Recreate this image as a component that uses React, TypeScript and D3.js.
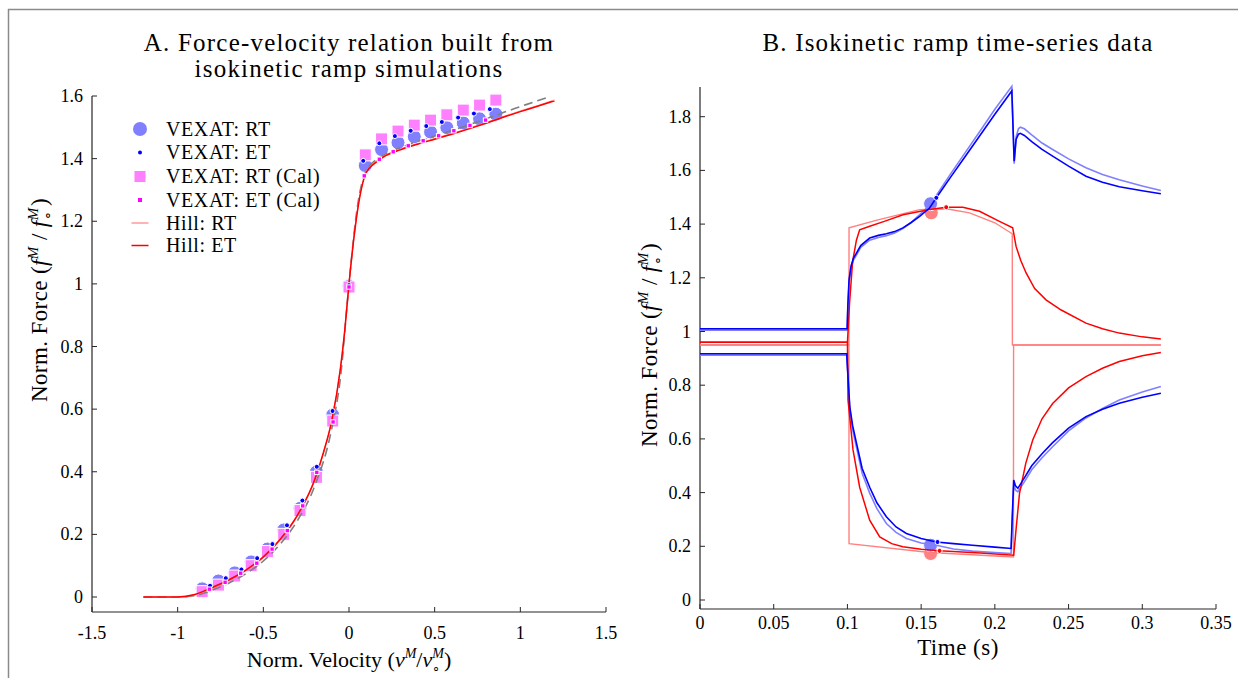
import React from 'react';
import * as d3 from 'd3';

const W = 1238, H = 678;
const FONT = "'Liberation Serif', 'Times New Roman', serif";

// ---------- Panel A : force-velocity ----------
const fvTickX = [-1.5, -1, -0.5, 0, 0.5, 1, 1.5];
const fvTickXLabels = ['-1.5', '-1', '-0.5', '0', '0.5', '1', '1.5'];
const fvTickY = [0, 0.2, 0.4, 0.6, 0.8, 1, 1.2, 1.4, 1.6];
const fvTickYLabels = ['0', '0.2', '0.4', '0.6', '0.8', '1', '1.2', '1.4', '1.6'];

const vexRtVel = [-0.857, -0.762, -0.667, -0.571, -0.476, -0.381, -0.286, -0.190, -0.095, 0, 0.095, 0.190, 0.286, 0.381, 0.476, 0.571, 0.667, 0.762, 0.857];
const vexRtForce = [0.026, 0.051, 0.077, 0.112, 0.153, 0.214, 0.283, 0.399, 0.581, 0.993, 1.378, 1.429, 1.451, 1.470, 1.485, 1.499, 1.514, 1.527, 1.542];
const vexRtCalForce = [0.017, 0.038, 0.067, 0.100, 0.145, 0.200, 0.276, 0.382, 0.562, 0.990, 1.412, 1.463, 1.488, 1.507, 1.523, 1.540, 1.555, 1.571, 1.587];
const vexEtVel = [-0.811, -0.719, -0.628, -0.536, -0.447, -0.362, -0.272, -0.188, -0.096, 0, 0.083, 0.177, 0.268, 0.360, 0.451, 0.542, 0.637, 0.729, 0.822];
const vexEtForce = [0.036, 0.060, 0.088, 0.124, 0.169, 0.229, 0.308, 0.416, 0.594, 0.996, 1.393, 1.449, 1.472, 1.489, 1.504, 1.517, 1.531, 1.544, 1.558];
const vexEtCalVel = [-0.815, -0.723, -0.632, -0.538, -0.449, -0.360, -0.270, -0.188, -0.093, 0, 0.089, 0.177, 0.258, 0.346, 0.433, 0.523, 0.612, 0.706, 0.797];
const vexEtCalForce = [0.025, 0.047, 0.076, 0.108, 0.153, 0.212, 0.291, 0.398, 0.559, 0.990, 1.345, 1.398, 1.422, 1.441, 1.457, 1.473, 1.489, 1.506, 1.523];

const hillVel = [-1.2, -1.0, -0.9, -0.8, -0.7, -0.6, -0.5, -0.4, -0.3, -0.2, -0.15, -0.1, -0.05, -0.025, 0, 0.025, 0.05, 0.075, 0.1, 0.15, 0.2, 0.3, 0.4, 0.5, 0.6, 0.7, 0.8, 0.9, 1.0, 1.1, 1.2];
const hillEtForce = [0, 0, 0.008, 0.030, 0.055, 0.087, 0.128, 0.185, 0.262, 0.375, 0.460, 0.565, 0.730, 0.850, 1.0, 1.130, 1.235, 1.310, 1.355, 1.385, 1.405, 1.428, 1.446, 1.462, 1.478, 1.495, 1.513, 1.532, 1.550, 1.567, 1.585];
const hillRtForce = [0, 0, 0.007, 0.028, 0.053, 0.085, 0.126, 0.183, 0.260, 0.373, 0.458, 0.563, 0.728, 0.850, 1.0, 1.132, 1.238, 1.313, 1.357, 1.387, 1.407, 1.430, 1.448, 1.464, 1.480, 1.497, 1.515, 1.534, 1.552, 1.569, 1.587];
const refVel = [-1.2, -1.0, -0.9, -0.8, -0.7, -0.6, -0.5, -0.4, -0.3, -0.2, -0.1, -0.05, 0, 0.05, 0.1, 0.2, 0.3, 0.4, 0.5, 0.6, 0.7, 0.8, 0.9, 1.0, 1.1, 1.15];
const refForce = [0, 0, 0.004, 0.022, 0.045, 0.075, 0.115, 0.170, 0.245, 0.355, 0.540, 0.700, 1.0, 1.250, 1.360, 1.410, 1.435, 1.455, 1.472, 1.490, 1.508, 1.527, 1.547, 1.566, 1.585, 1.594];

// ---------- Panel B : time series ----------
const tsTickX = [0, 0.05, 0.1, 0.15, 0.2, 0.25, 0.3, 0.35];
const tsTickXLabels = ['0', '0.05', '0.1', '0.15', '0.2', '0.25', '0.3', '0.35'];
const tsTickY = [0, 0.2, 0.4, 0.6, 0.8, 1, 1.2, 1.4, 1.6, 1.8];
const tsTickYLabels = ['0', '0.2', '0.4', '0.6', '0.8', '1', '1.2', '1.4', '1.6', '1.8'];

const vexEtLenT = [0, 0.0998, 0.1003, 0.1011, 0.1025, 0.1040, 0.1061, 0.1090, 0.1151, 0.1210, 0.1264, 0.1320, 0.1376, 0.1430, 0.1490, 0.1557, 0.1603, 0.1700, 0.1800, 0.1900, 0.2000, 0.2115, 0.2131, 0.2144, 0.2160, 0.2173, 0.2200, 0.2250, 0.2320, 0.2392, 0.2500, 0.2618, 0.2730, 0.2844, 0.3000, 0.3126];
const vexEtLenF = [1.010, 1.010, 1.100, 1.193, 1.245, 1.272, 1.292, 1.320, 1.348, 1.358, 1.364, 1.372, 1.386, 1.405, 1.429, 1.460, 1.498, 1.575, 1.653, 1.731, 1.809, 1.896, 1.634, 1.715, 1.735, 1.738, 1.730, 1.707, 1.678, 1.653, 1.616, 1.578, 1.556, 1.539, 1.524, 1.513];
const vexRtLenT = vexEtLenT;
const vexRtLenF = [1.005, 1.005, 1.090, 1.180, 1.235, 1.265, 1.285, 1.313, 1.340, 1.350, 1.357, 1.367, 1.383, 1.405, 1.435, 1.470, 1.507, 1.587, 1.667, 1.747, 1.828, 1.913, 1.625, 1.725, 1.755, 1.761, 1.755, 1.732, 1.702, 1.678, 1.643, 1.610, 1.585, 1.565, 1.542, 1.525];

const vexEtShoT = [0, 0.0995, 0.1016, 0.1035, 0.1061, 0.1100, 0.1151, 0.1200, 0.1264, 0.1330, 0.1400, 0.1500, 0.1603, 0.1720, 0.1848, 0.2000, 0.2110, 0.2118, 0.2128, 0.2140, 0.2156, 0.2200, 0.2250, 0.2320, 0.2390, 0.2500, 0.2618, 0.2730, 0.2844, 0.3000, 0.3126];
const vexEtShoF = [0.917, 0.917, 0.720, 0.650, 0.585, 0.490, 0.420, 0.362, 0.310, 0.272, 0.248, 0.229, 0.216, 0.210, 0.204, 0.197, 0.192, 0.310, 0.447, 0.425, 0.416, 0.455, 0.500, 0.545, 0.585, 0.640, 0.683, 0.710, 0.733, 0.755, 0.770];
const vexRtShoT = vexEtShoT;
const vexRtShoF = [0.912, 0.912, 0.710, 0.635, 0.570, 0.472, 0.398, 0.340, 0.285, 0.252, 0.229, 0.212, 0.204, 0.190, 0.182, 0.177, 0.173, 0.290, 0.430, 0.410, 0.403, 0.440, 0.485, 0.530, 0.570, 0.630, 0.678, 0.713, 0.745, 0.775, 0.795];

const hillEtLenT = [0, 0.1000, 0.1015, 0.1035, 0.1061, 0.1083, 0.1151, 0.1250, 0.1377, 0.1557, 0.1670, 0.1783, 0.1896, 0.2031, 0.2121, 0.2144, 0.2175, 0.2212, 0.2270, 0.2347, 0.2450, 0.2618, 0.2730, 0.2844, 0.3000, 0.3126];
const hillEtLenF = [0.960, 0.960, 1.110, 1.260, 1.340, 1.379, 1.392, 1.410, 1.435, 1.454, 1.463, 1.463, 1.448, 1.410, 1.386, 1.317, 1.265, 1.218, 1.160, 1.118, 1.080, 1.031, 1.010, 0.994, 0.980, 0.972];
const hillRtLenT = [0, 0.1010, 0.1011, 0.1200, 0.1490, 0.1671, 0.1828, 0.2000, 0.2118, 0.2119, 0.3126];
const hillRtLenF = [0.950, 0.950, 1.386, 1.415, 1.454, 1.457, 1.442, 1.405, 1.364, 0.950, 0.950];

const hillEtShoT = [0, 0.1000, 0.1004, 0.1038, 0.1083, 0.1151, 0.1219, 0.1300, 0.1376, 0.1500, 0.1625, 0.1900, 0.2128, 0.2145, 0.2167, 0.2210, 0.2257, 0.2320, 0.2392, 0.2500, 0.2618, 0.2730, 0.2844, 0.3000, 0.3126];
const hillEtShoF = [0.960, 0.960, 0.745, 0.559, 0.420, 0.297, 0.235, 0.210, 0.198, 0.189, 0.183, 0.175, 0.167, 0.270, 0.396, 0.510, 0.596, 0.675, 0.732, 0.790, 0.832, 0.863, 0.888, 0.910, 0.922];
const hillRtShoT = [0, 0.1010, 0.1011, 0.1557, 0.2126, 0.2127, 0.3126];
const hillRtShoF = [0.950, 0.950, 0.210, 0.177, 0.160, 0.950, 0.950];

// markers on panel B
const vexRtMarkT = [0.1564, 0.1564];
const vexRtMarkF = [1.476, 0.204];
const vexEtMarkT = [0.1603, 0.1611];
const vexEtMarkF = [1.498, 0.216];
const hillRtMarkT = [0.1569, 0.1564];
const hillRtMarkF = [1.442, 0.173];
const hillEtMarkT = [0.1670, 0.1625];
const hillEtMarkF = [1.463, 0.183];

const legendLabels = ['VEXAT: RT', 'VEXAT: ET', 'VEXAT: RT (Cal)', 'VEXAT: ET (Cal)', 'Hill: RT', 'Hill: ET'];

const C_LBLUE = '#8080ff';
const C_BLUE = '#0000ff';
const C_PINK = '#ff80ff';
const C_MAG = '#ff00ff';
const C_LRED = '#ff8080';
const C_RED = '#ff0000';

const zip = (a: number[], b: number[]) => a.map((v, i) => [v, b[i]] as [number, number]);

function ForceLabel({ x, y }: { x: number; y: number }) {
  return (
    <text transform={`translate(${x},${y}) rotate(-90)`} textAnchor="middle" fontFamily={FONT} fontSize={23} fill="#000" letterSpacing={0.4}>
      Norm. Force (<tspan fontStyle="italic">f</tspan>
      <tspan dy={-9} fontSize={15} fontStyle="italic">M</tspan>
      <tspan dy={9}>{'\u00a0/\u00a0'}</tspan>
      <tspan fontStyle="italic">f</tspan>
      <tspan dy={-9} fontSize={15} fontStyle="italic">M</tspan>
      <tspan dx={-13} dy={14} fontSize={14}>∘</tspan>
      <tspan dx={5} dy={-5}>)</tspan>
    </text>
  );
}

export default function App() {
  const xA = d3.scaleLinear().domain([-1.5, 1.5]).range([92, 606]);
  const yA = d3.scaleLinear().domain([0, 1.6]).range([597, 96]);
  const xB = d3.scaleLinear().domain([0, 0.35]).range([700, 1216]);
  const yB = d3.scaleLinear().domain([0, 1.8]).range([600, 116.7]);

  const lineA = d3.line<[number, number]>().x(d => xA(d[0])).y(d => yA(d[1])).curve(d3.curveMonotoneX);
  const lineB = d3.line<[number, number]>().x(d => xB(d[0])).y(d => yB(d[1]));

  const axA = { x0: 92, x1: 606, yLine: 612, yTop: 96 };
  const axB = { x0: 700, x1: 1216, yLine: 609, yTop: 87 };

  const legY = [129, 152.5, 176.5, 200, 223, 245.5];
  const legX = 140;

  return (
    <svg width={W} height={H} style={{ position: 'absolute', left: 0, top: 0, background: '#fff' }}>
      <rect x={0} y={0} width={W} height={H} fill="#fff" />
      {/* frame */}
      <line x1={8} y1={9.5} x2={W} y2={9.5} stroke="#8a8a8a" strokeWidth={1.5} />
      <line x1={8.5} y1={9} x2={8.5} y2={H} stroke="#8a8a8a" strokeWidth={1.5} />

      {/* ===== Panel A ===== */}
      <text x={349} y={51} textAnchor="middle" fontFamily={FONT} fontSize={25} letterSpacing={1.2}>A. Force-velocity relation built from</text>
      <text x={349} y={77} textAnchor="middle" fontFamily={FONT} fontSize={25} letterSpacing={1.2}>isokinetic ramp simulations</text>

      {/* axes */}
      <line x1={axA.x0} y1={axA.yLine} x2={axA.x1} y2={axA.yLine} stroke="#262626" strokeWidth={1.2} />
      <line x1={axA.x0} y1={axA.yLine} x2={axA.x0} y2={axA.yTop} stroke="#262626" strokeWidth={1.2} />
      {fvTickX.map((v, i) => (
        <g key={'ax' + i}>
          <line x1={xA(v)} x2={xA(v)} y1={axA.yLine} y2={axA.yLine - 5} stroke="#262626" strokeWidth={1} />
          <text x={xA(v)} y={639} textAnchor="middle" fontFamily={FONT} fontSize={18}>{fvTickXLabels[i]}</text>
        </g>
      ))}
      {fvTickY.map((v, i) => (
        <g key={'ay' + i}>
          <line x1={axA.x0} x2={axA.x0 + 5} y1={yA(v)} y2={yA(v)} stroke="#262626" strokeWidth={1} />
          <text x={axA.x0 - 9} y={yA(v) + 6} textAnchor="end" fontFamily={FONT} fontSize={18}>{fvTickYLabels[i]}</text>
        </g>
      ))}
      <text x={349} y={667} textAnchor="middle" fontFamily={FONT} fontSize={22}>
        Norm. Velocity (<tspan fontStyle="italic">v</tspan>
        <tspan dy={-9} fontSize={14} fontStyle="italic">M</tspan>
        <tspan dy={9}>/</tspan>
        <tspan fontStyle="italic">v</tspan>
        <tspan dy={-9} fontSize={14} fontStyle="italic">M</tspan>
        <tspan dx={-12} dy={14} fontSize={13}>∘</tspan>
        <tspan dx={4} dy={-5}>)</tspan>
      </text>
      <ForceLabel x={47} y={300} />

      {/* markers: RT circles, RT(Cal) squares */}
      {zip(vexRtVel, vexRtForce).map((d, i) => (
        <circle key={'c' + i} cx={xA(d[0])} cy={yA(d[1])} r={7} fill={C_LBLUE} stroke="#fff" strokeWidth={1} />
      ))}
      {zip(vexRtVel, vexRtCalForce).map((d, i) => (
        <rect key={'s' + i} x={xA(d[0]) - 6} y={yA(d[1]) - 6} width={12} height={12} fill={C_PINK} stroke="#fff" strokeWidth={1} />
      ))}
      {/* lines */}
      <path d={lineA(zip(refVel, refForce)) || ''} fill="none" stroke="#7f7f7f" strokeWidth={1.6} strokeDasharray="9,5" />
      <path d={lineA(zip(hillVel, hillRtForce)) || ''} fill="none" stroke={C_LRED} strokeWidth={1.2} />
      <path d={lineA(zip(hillVel, hillEtForce)) || ''} fill="none" stroke={C_RED} strokeWidth={1.5} />
      {/* ET dots */}
      {zip(vexEtVel, vexEtForce).map((d, i) => (
        <circle key={'d' + i} cx={xA(d[0])} cy={yA(d[1])} r={2.5} fill={C_BLUE} stroke="#fff" strokeWidth={1} />
      ))}
      {zip(vexEtCalVel, vexEtCalForce).map((d, i) => (
        <rect key={'m' + i} x={xA(d[0]) - 2.2} y={yA(d[1]) - 2.2} width={4.4} height={4.4} fill={C_MAG} stroke="#fff" strokeWidth={1} />
      ))}

      {/* legend */}
      <circle cx={legX} cy={legY[0]} r={7} fill={C_LBLUE} />
      <circle cx={legX} cy={legY[1]} r={2} fill={C_BLUE} />
      <rect x={legX - 5.5} y={legY[2] - 5.5} width={11} height={11} fill={C_PINK} />
      <rect x={legX - 2} y={legY[3] - 2} width={4} height={4} fill={C_MAG} />
      <line x1={legX - 8.5} x2={legX + 8.5} y1={legY[4]} y2={legY[4]} stroke={C_LRED} strokeWidth={1.2} />
      <line x1={legX - 8.5} x2={legX + 8.5} y1={legY[5]} y2={legY[5]} stroke={C_RED} strokeWidth={1.5} />
      {legendLabels.map((s, i) => (
        <text key={'l' + i} x={166} y={legY[i] + 6.5} fontFamily={FONT} fontSize={20} letterSpacing={0.6}>{s}</text>
      ))}

      {/* ===== Panel B ===== */}
      <text x={958} y={51} textAnchor="middle" fontFamily={FONT} fontSize={25} letterSpacing={1.2}>B. Isokinetic ramp time-series data</text>
      <line x1={axB.x0} y1={axB.yLine} x2={axB.x1} y2={axB.yLine} stroke="#262626" strokeWidth={1.2} />
      <line x1={axB.x0} y1={axB.yLine} x2={axB.x0} y2={axB.yTop} stroke="#262626" strokeWidth={1.2} />
      {tsTickX.map((v, i) => (
        <g key={'bx' + i}>
          <line x1={xB(v)} x2={xB(v)} y1={axB.yLine} y2={axB.yLine - 5} stroke="#262626" strokeWidth={1} />
          <text x={xB(v)} y={629} textAnchor="middle" fontFamily={FONT} fontSize={18}>{tsTickXLabels[i]}</text>
        </g>
      ))}
      {tsTickY.map((v, i) => (
        <g key={'by' + i}>
          <line x1={axB.x0} x2={axB.x0 + 5} y1={yB(v)} y2={yB(v)} stroke="#262626" strokeWidth={1} />
          <text x={axB.x0 - 9} y={yB(v) + 6} textAnchor="end" fontFamily={FONT} fontSize={18}>{tsTickYLabels[i]}</text>
        </g>
      ))}
      <text x={958} y={655} textAnchor="middle" fontFamily={FONT} fontSize={23} letterSpacing={0.5}>Time (s)</text>
      <ForceLabel x={657} y={345} />

      {/* big circles */}
      {zip(hillRtMarkT, hillRtMarkF).map((d, i) => (
        <circle key={'hr' + i} cx={xB(d[0])} cy={yB(d[1])} r={7} fill={C_LRED} stroke="#fff" strokeWidth={1} />
      ))}
      {zip(vexRtMarkT, vexRtMarkF).map((d, i) => (
        <circle key={'vr' + i} cx={xB(d[0])} cy={yB(d[1])} r={7} fill={C_LBLUE} stroke="#fff" strokeWidth={1} />
      ))}
      {/* lines */}
      <path d={lineB(zip(hillRtLenT, hillRtLenF)) || ''} fill="none" stroke={C_LRED} strokeWidth={1.4} />
      <path d={lineB(zip(hillRtShoT, hillRtShoF)) || ''} fill="none" stroke={C_LRED} strokeWidth={1.4} />
      <path d={lineB(zip(vexRtLenT, vexRtLenF)) || ''} fill="none" stroke={C_LBLUE} strokeWidth={1.6} />
      <path d={lineB(zip(vexRtShoT, vexRtShoF)) || ''} fill="none" stroke={C_LBLUE} strokeWidth={1.6} />
      <path d={lineB(zip(hillEtLenT, hillEtLenF)) || ''} fill="none" stroke={C_RED} strokeWidth={1.5} />
      <path d={lineB(zip(hillEtShoT, hillEtShoF)) || ''} fill="none" stroke={C_RED} strokeWidth={1.5} />
      <path d={lineB(zip(vexEtLenT, vexEtLenF)) || ''} fill="none" stroke={C_BLUE} strokeWidth={1.6} />
      <path d={lineB(zip(vexEtShoT, vexEtShoF)) || ''} fill="none" stroke={C_BLUE} strokeWidth={1.6} />
      {/* small dots */}
      {zip(hillEtMarkT, hillEtMarkF).map((d, i) => (
        <circle key={'he' + i} cx={xB(d[0])} cy={yB(d[1])} r={2.5} fill={C_RED} stroke="#fff" strokeWidth={1} />
      ))}
      {zip(vexEtMarkT, vexEtMarkF).map((d, i) => (
        <circle key={'ve' + i} cx={xB(d[0])} cy={yB(d[1])} r={2.5} fill={C_BLUE} stroke="#fff" strokeWidth={1} />
      ))}
    </svg>
  );
}
